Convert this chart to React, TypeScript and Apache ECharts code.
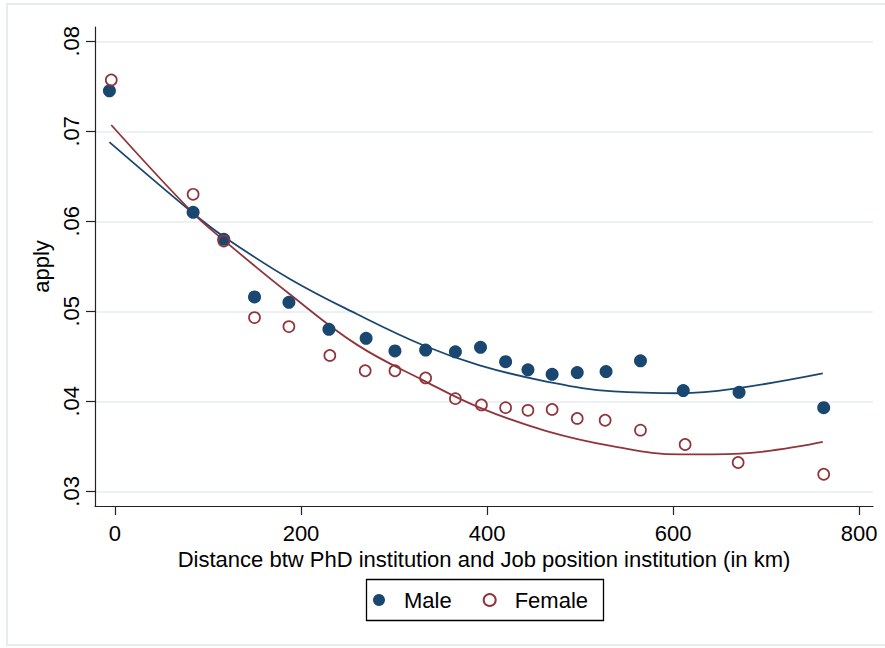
import React, { useEffect, useRef } from "react";
import * as echarts from "echarts";

const maleX = [-6, 84, 117, 150, 187, 230, 270, 301, 334, 366, 393, 420, 444, 470, 497, 528, 565, 611, 671, 762];
const maleY = [0.0745, 0.061, 0.058, 0.0516, 0.051, 0.048, 0.047, 0.0456, 0.0457, 0.0455, 0.046, 0.0444, 0.0435, 0.043, 0.0432, 0.0433, 0.0445, 0.0412, 0.041, 0.0393];
const femaleX = [-4, 84, 117, 150, 187, 231, 269, 301, 334, 366, 394, 420, 444, 470, 497, 527, 565, 613, 670, 762];
const femaleY = [0.0757, 0.063, 0.0578, 0.0493, 0.0483, 0.0451, 0.0434, 0.0434, 0.0426, 0.0403, 0.0396, 0.0393, 0.039, 0.0391, 0.0381, 0.0379, 0.0368, 0.0352, 0.0332, 0.0319];

const maleFitX = [-6, 84, 117, 188, 260, 332, 392, 464, 536, 608, 672, 761];
const maleFitY = [0.0688, 0.0609, 0.0583, 0.0536, 0.0497, 0.0462, 0.044, 0.0422, 0.0411, 0.0409, 0.0415, 0.0431];
const femaleFitX = [-4, 84, 117, 188, 260, 332, 392, 464, 536, 608, 672, 761];
const femaleFitY = [0.0707, 0.0609, 0.0579, 0.0519, 0.0463, 0.0423, 0.0393, 0.0367, 0.035, 0.0341, 0.0342, 0.0355];

const xTicks = [0, 200, 400, 600, 800];
const yTicks = [0.03, 0.04, 0.05, 0.06, 0.07, 0.08];
const yTickLabels = [".03", ".04", ".05", ".06", ".07", ".08"];

const NAVY = "#1a476f";
const MAROON = "#90353b";
const FONT = "'Liberation Sans', Arial, sans-serif";

const zip = (xs: number[], ys: number[]) => xs.map((x, i) => [x, ys[i]]);

export default function App() {
  const ref = useRef<HTMLDivElement>(null);
  useEffect(() => {
    if (!ref.current) return;
    const chart = echarts.init(ref.current, null, { renderer: "svg" });
    chart.setOption({
      animation: false,
      backgroundColor: "#fff",
      textStyle: { fontFamily: FONT },
      grid: { left: 95, right: 12, top: 27, bottom: 142, containLabel: false },
      xAxis: {
        type: "value",
        min: -21.5,
        max: 815,
        name: "Distance btw PhD institution and Job position institution (in km)",
        nameLocation: "middle",
        nameGap: 36,
        nameTextStyle: { fontSize: 22, color: "#000", fontFamily: FONT },
        axisLine: { show: true, onZero: false, lineStyle: { color: "#222", width: 1.2 } },
        axisTick: { show: true, length: 9, customValues: xTicks, lineStyle: { color: "#222", width: 1.2 } },
        axisLabel: { customValues: xTicks, fontSize: 22, color: "#000", margin: 16, fontFamily: FONT },
        splitLine: { show: false },
      },
      yAxis: {
        type: "value",
        min: 0.02837,
        max: 0.08159,
        name: "apply",
        nameLocation: "middle",
        nameGap: 41,
        nameTextStyle: { fontSize: 22, color: "#000", fontFamily: FONT },
        axisLine: { show: true, onZero: false, lineStyle: { color: "#222", width: 1.2 } },
        axisTick: { show: true, length: 9, customValues: yTicks, lineStyle: { color: "#222", width: 1.2 } },
        axisLabel: {
          customValues: yTicks,
          rotate: 90,
          fontSize: 22,
          color: "#000",
          margin: 13,
          fontFamily: FONT,
          formatter: (v: number) => {
            const i = yTicks.findIndex((t) => Math.abs(t - v) < 1e-6);
            return i >= 0 ? yTickLabels[i] : "";
          },
        },
        splitLine: { show: false },
      },
      legend: {
        left: 373,
        top: 589,
        padding: 0,
        itemWidth: 40,
        itemHeight: 12,
        itemGap: 31,
        textStyle: { fontSize: 22, color: "#000", fontFamily: FONT },
        data: ["Male", "Female"],
      },
      graphic: [
        {
          type: "rect",
          shape: { x: 7, y: 4, width: 900, height: 641 },
          style: { fill: "none", stroke: "#e6edf0", lineWidth: 2 },
          silent: true,
          z: -10,
        },
        {
          type: "rect",
          shape: { x: 366.5, y: 579.5, width: 237, height: 41 },
          style: { fill: "none", stroke: "#000", lineWidth: 1.3 },
          silent: true,
        },
      ],
      series: [
        {
          name: "grid",
          type: "line",
          data: [],
          z: 0,
          silent: true,
          markLine: {
            silent: true,
            z: 0,
            symbol: ["none", "none"],
            label: { show: false },
            lineStyle: { color: "#e6eef1", width: 1.6, type: "solid" },
            data: yTicks.map((t) => ({ yAxis: t })),
          },
        },
        {
          name: "MaleFit",
          type: "line",
          data: zip(maleFitX, maleFitY),
          smooth: 0.4,
          showSymbol: false,
          z: 2,
          lineStyle: { color: NAVY, width: 1.8 },
          itemStyle: { color: NAVY },
        },
        {
          name: "FemaleFit",
          type: "line",
          data: zip(femaleFitX, femaleFitY),
          smooth: 0.4,
          showSymbol: false,
          z: 2,
          lineStyle: { color: MAROON, width: 1.8 },
          itemStyle: { color: MAROON },
        },
        {
          name: "Male",
          type: "scatter",
          data: zip(maleX, maleY),
          symbol: "circle",
          symbolSize: 13,
          z: 3,
          itemStyle: { color: NAVY, opacity: 1 },
        },
        {
          name: "Female",
          type: "scatter",
          data: zip(femaleX, femaleY),
          symbol: "circle",
          symbolSize: 11,
          z: 3,
          itemStyle: { color: "rgba(255,255,255,0)", borderColor: MAROON, borderWidth: 1.7, opacity: 1 },
        },
      ],
    });
    return () => chart.dispose();
  }, []);
  return <div ref={ref} style={{ position: "absolute", left: 0, top: 0, width: 885, height: 648 }} />;
}
